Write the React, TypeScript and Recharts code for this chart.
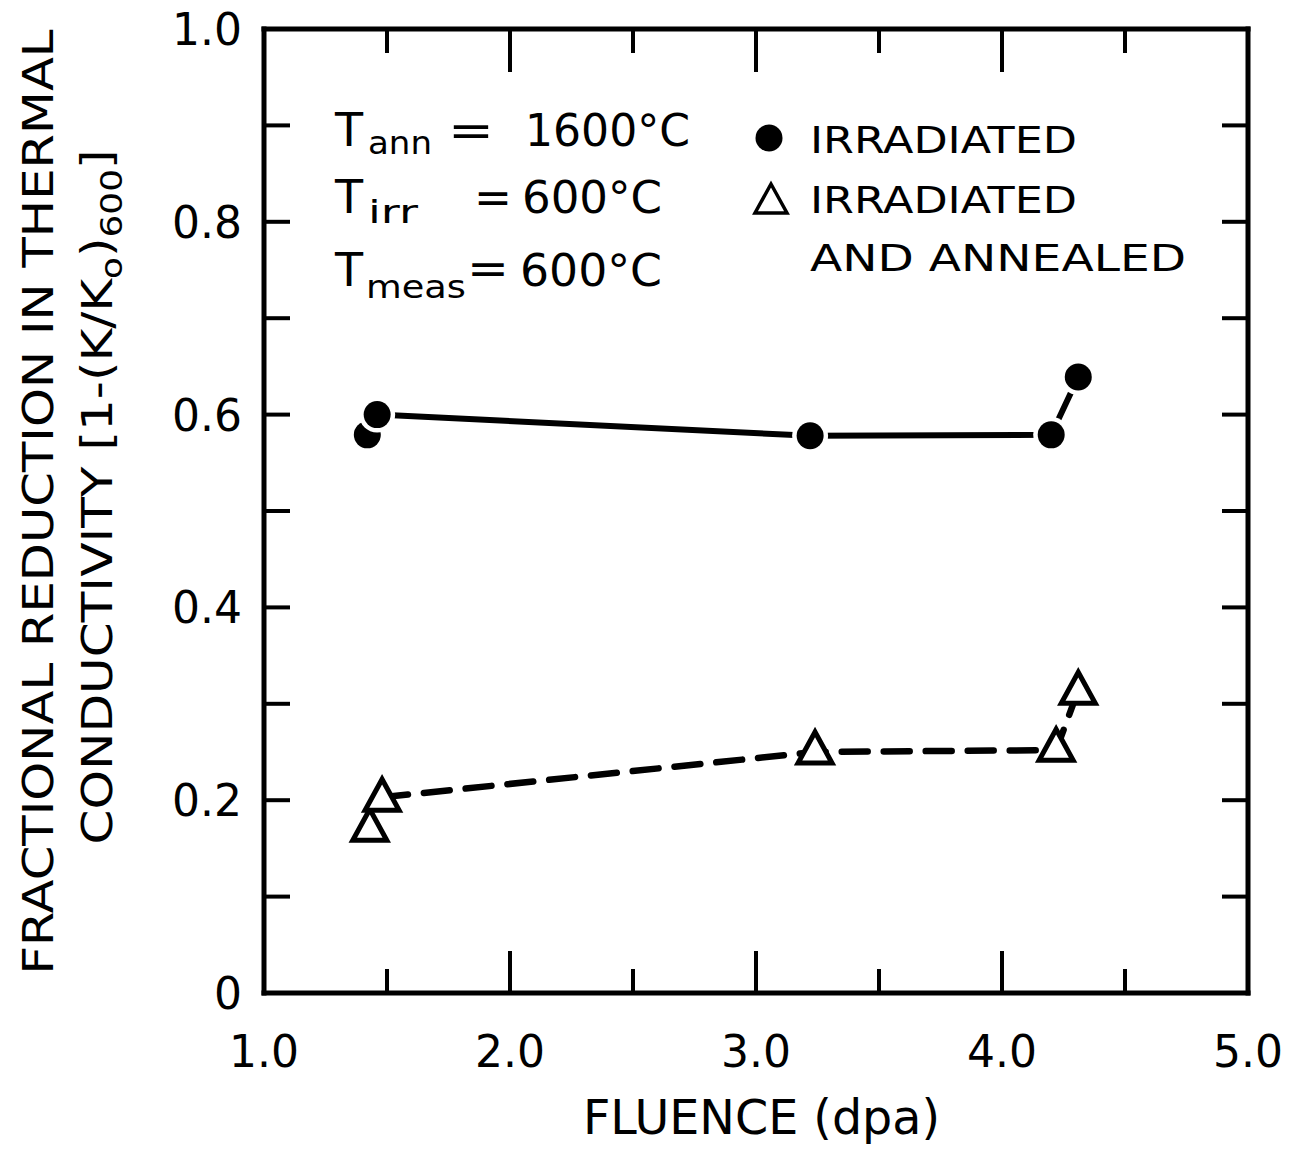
import React from 'react'
import { ComposedChart, Scatter, XAxis, YAxis, Legend } from 'recharts'

// fluence (dpa) and fractional reduction
const irradiatedX = [1.42, 1.46, 3.22, 4.2, 4.31]
const irradiatedY = [0.579, 0.6, 0.578, 0.579, 0.639]
const irradiatedLineX = [1.46, 3.22, 4.2, 4.31]
const irradiatedLineY = [0.6, 0.578, 0.579, 0.639]

const annealedX = [1.43, 1.48, 3.24, 4.22, 4.31]
const annealedY = [0.172, 0.203, 0.252, 0.255, 0.314]
const annealedLineX = [1.48, 3.24, 4.22, 4.31]
const annealedLineY = [0.203, 0.25, 0.252, 0.314]

const xTicks = [1, 1.5, 2, 2.5, 3, 3.5, 4, 4.5, 5]
const yTicks = [0, 0.1, 0.2, 0.3, 0.4, 0.5, 0.6, 0.7, 0.8, 0.9, 1]

const legendLabels = ['IRRADIATED', 'IRRADIATED', 'AND ANNEALED']

const FONT = '"DejaVu Sans", sans-serif'

const toRows = (xs: number[], ys: number[]) => xs.map((x, i) => ({ x, y: ys[i] }))

const irradiated = toRows(irradiatedX, irradiatedY)
const irradiatedLine = toRows(irradiatedLineX, irradiatedLineY)
const annealed = toRows(annealedX, annealedY)
const annealedLine = toRows(annealedLineX, annealedLineY)

const isMajorX = (v: number) => Math.abs(v - Math.round(v)) < 1e-6
const isLabelledY = (v: number) => Math.round(v * 10) % 2 === 0

function BottomTick(props: any) {
  const { x, y, payload } = props
  const v = payload.value as number
  const major = isMajorX(v)
  const inside = v > 1.01 && v < 4.99
  return (
    <g>
      {inside && (
        <line x1={x} x2={x} y1={y} y2={y - (major ? 42 : 24)} stroke="#000" strokeWidth={4} />
      )}
      {major && (
        <text x={x} y={y + 74} textAnchor="middle" fontSize={44} fontFamily={FONT} fill="#000">
          {v.toFixed(1)}
        </text>
      )}
    </g>
  )
}

function TopTick(props: any) {
  const { x, y, payload } = props
  const v = payload.value as number
  if (v < 1.01 || v > 4.99) return <g />
  return <line x1={x} x2={x} y1={y} y2={y + (isMajorX(v) ? 43 : 24)} stroke="#000" strokeWidth={4} />
}

function LeftTick(props: any) {
  const { x, y, payload } = props
  const v = payload.value as number
  const inside = v > 0.01 && v < 0.99
  return (
    <g>
      {inside && <line x1={x} x2={x + 26} y1={y} y2={y} stroke="#000" strokeWidth={4} />}
      {isLabelledY(v) && (
        <text x={x - 22} y={y + 16} textAnchor="end" fontSize={44} fontFamily={FONT} fill="#000">
          {v === 0 ? '0' : v.toFixed(1)}
        </text>
      )}
    </g>
  )
}

function RightTick(props: any) {
  const { x, y, payload } = props
  const v = payload.value as number
  if (v < 0.01 || v > 0.99) return <g />
  return <line x1={x} x2={x - 26} y1={y} y2={y} stroke="#000" strokeWidth={4} />
}

function DotShape(props: any) {
  const { cx, cy } = props
  return (
    <g>
      <circle cx={cx} cy={cy} r={18} fill="#fff" />
      <circle cx={cx} cy={cy} r={13.5} fill="#000" />
    </g>
  )
}

function TriangleShape(props: any) {
  const { cx, cy } = props
  const pts = `${cx},${cy - 18} ${cx - 17},${cy + 13} ${cx + 17},${cy + 13}`
  return <polygon points={pts} fill="#fff" stroke="#000" strokeWidth={5} strokeLinejoin="miter" />
}

const NoShape = () => <g />

function LegendBox() {
  return (
    <svg width={470} height={180} style={{ overflow: 'visible' }}>
      <circle cx={29} cy={28} r={13.5} fill="#000" />
      <polygon points="31,74 15,103 47,103" fill="#fff" stroke="#000" strokeWidth={3.5} />
      <g fontFamily={FONT} fontSize={38} fill="#000">
        <text x={70} y={43} textLength={267} lengthAdjust="spacingAndGlyphs">{legendLabels[0]}</text>
        <text x={70} y={103} textLength={267} lengthAdjust="spacingAndGlyphs">{legendLabels[1]}</text>
        <text x={70} y={161} textLength={376} lengthAdjust="spacingAndGlyphs">{legendLabels[2]}</text>
      </g>
    </svg>
  )
}

function Conditions() {
  return (
    <svg
      width={1301}
      height={1149}
      style={{ position: 'absolute', left: 0, top: 0, pointerEvents: 'none' }}
    >
      <g fontFamily={FONT} fill="#000">
        <text x={335} y={146} fontSize={46}>T</text>
        <text x={368} y={154} fontSize={32} textLength={64} lengthAdjust="spacingAndGlyphs">ann</text>
        <text x={448} y={146} fontSize={44} textLength={46} lengthAdjust="spacingAndGlyphs">=</text>
        <text x={525} y={146} fontSize={44} textLength={165} lengthAdjust="spacingAndGlyphs">1600°C</text>

        <text x={335} y={213} fontSize={46}>T</text>
        <text x={368} y={223} fontSize={32} textLength={50} lengthAdjust="spacingAndGlyphs">irr</text>
        <text x={474} y={213} fontSize={44} textLength={38} lengthAdjust="spacingAndGlyphs">=</text>
        <text x={522} y={213} fontSize={44} textLength={140} lengthAdjust="spacingAndGlyphs">600°C</text>

        <text x={335} y={286} fontSize={46}>T</text>
        <text x={366} y={298} fontSize={32} textLength={100} lengthAdjust="spacingAndGlyphs">meas</text>
        <text x={467} y={284} fontSize={44} textLength={42} lengthAdjust="spacingAndGlyphs">=</text>
        <text x={520} y={286} fontSize={44} textLength={142} lengthAdjust="spacingAndGlyphs">600°C</text>
      </g>
    </svg>
  )
}

const XTitle = () => (
  <text x={583} y={1134} fontSize={48} fontFamily={FONT} fill="#000" textLength={357} lengthAdjust="spacingAndGlyphs">
    FLUENCE (dpa)
  </text>
)

const YTitle = () => (
  <g fontFamily={FONT} fill="#000">
    <text
      transform="translate(53,502) rotate(-90)"
      textAnchor="middle"
      fontSize={42}
      textLength={945}
      lengthAdjust="spacingAndGlyphs"
    >
      FRACTIONAL REDUCTION IN THERMAL
    </text>
    <text
      transform="translate(112,497) rotate(-90)"
      textAnchor="middle"
      fontSize={42}
      textLength={695}
      lengthAdjust="spacingAndGlyphs"
    >
      CONDUCTIVITY [1-(K/K
      <tspan dy={10} fontSize={30}>o</tspan>
      <tspan dy={-10}>)</tspan>
      <tspan dy={10} fontSize={30}>600</tspan>
      <tspan dy={-10}>]</tspan>
    </text>
  </g>
)

export default function App() {
  return (
    <div style={{ position: 'absolute', left: 0, top: 0, width: 1301, height: 1149, background: '#fff' }}>
      <ComposedChart width={1301} height={1149} margin={{ top: 0, right: 0, bottom: 0, left: 0 }}>
        <XAxis
          xAxisId="b"
          dataKey="x"
          type="number"
          domain={[1, 5]}
          ticks={xTicks}
          interval={0}
          allowDataOverflow
          orientation="bottom"
          height={156}
          tickSize={0}
          tickMargin={0}
          tickLine={false}
          tick={<BottomTick />}
          axisLine={{ stroke: '#000', strokeWidth: 5, strokeLinecap: 'square' }}
          label={{ content: () => <XTitle /> }}
        />
        <XAxis
          xAxisId="t"
          dataKey="x"
          type="number"
          domain={[1, 5]}
          ticks={xTicks}
          interval={0}
          allowDataOverflow
          orientation="top"
          height={29}
          tickSize={0}
          tickMargin={0}
          tickLine={false}
          tick={<TopTick />}
          axisLine={{ stroke: '#000', strokeWidth: 5, strokeLinecap: 'square' }}
        />
        <YAxis
          yAxisId="l"
          dataKey="y"
          type="number"
          domain={[0, 1]}
          ticks={yTicks}
          interval={0}
          allowDataOverflow
          orientation="left"
          width={264}
          tickSize={0}
          tickMargin={0}
          tickLine={false}
          tick={<LeftTick />}
          axisLine={{ stroke: '#000', strokeWidth: 5, strokeLinecap: 'square' }}
          label={{ content: () => <YTitle /> }}
        />
        <YAxis
          yAxisId="r"
          dataKey="y"
          type="number"
          domain={[0, 1]}
          ticks={yTicks}
          interval={0}
          allowDataOverflow
          orientation="right"
          width={53}
          tickSize={0}
          tickMargin={0}
          tickLine={false}
          tick={<RightTick />}
          axisLine={{ stroke: '#000', strokeWidth: 5, strokeLinecap: 'square' }}
        />

        <Scatter
          xAxisId="b"
          yAxisId="l"
          data={irradiatedLine}
          fill="#000"
          line={{ stroke: '#000', strokeWidth: 6, strokeLinecap: 'round' }}
          lineType="joint"
          shape={NoShape}
          legendType="none"
          isAnimationActive={false}
        />
        <Scatter
          xAxisId="b"
          yAxisId="l"
          data={annealedLine}
          fill="#000"
          line={{ stroke: '#000', strokeWidth: 6.5, strokeDasharray: '26 16', strokeLinecap: 'round' }}
          lineType="joint"
          shape={NoShape}
          legendType="none"
          isAnimationActive={false}
        />
        <Scatter
          xAxisId="b"
          yAxisId="l"
          name="IRRADIATED"
          data={irradiated}
          fill="#000"
          shape={DotShape}
          isAnimationActive={false}
        />
        <Scatter
          xAxisId="b"
          yAxisId="l"
          name="IRRADIATED AND ANNEALED"
          data={annealed}
          fill="#000"
          shape={TriangleShape}
          isAnimationActive={false}
        />

        <Legend
          layout="horizontal"
          verticalAlign="middle"
          align="center"
          wrapperStyle={{ top: 110, left: 740, width: 470, height: 180 }}
          content={() => <LegendBox />}
        />
      </ComposedChart>
      <Conditions />
    </div>
  )
}
